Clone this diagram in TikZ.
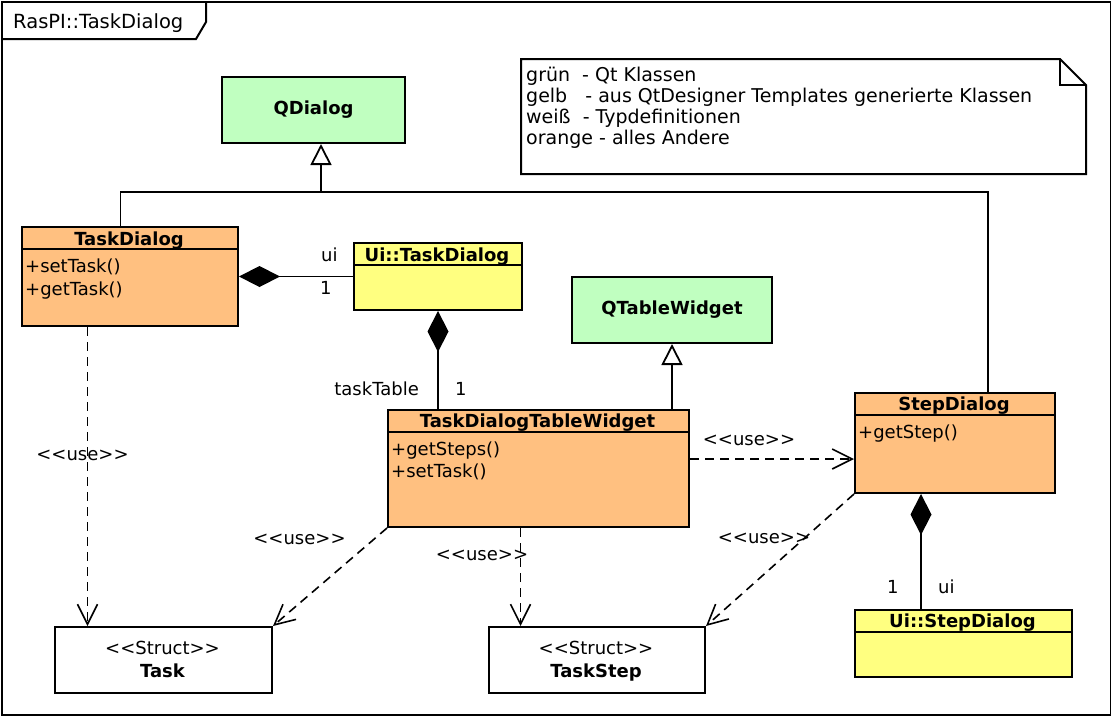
\documentclass[tikz,border=0pt]{standalone}
\usepackage{fontspec}
\setmainfont{DejaVu Sans}
\usetikzlibrary{arrows.meta}
\definecolor{qtgreen}{RGB}{192,255,192}
\definecolor{genyellow}{RGB}{255,255,128}
\definecolor{clsorange}{RGB}{255,192,128}
\begin{document}
\begin{tikzpicture}[x=1pt,y=-1pt,
  txt/.style={inner sep=0pt, font=\fontsize{18}{22}\selectfont},
  lbl/.style={txt, anchor=base west},
  clbl/.style={txt, anchor=base},
  notelbl/.style={inner sep=0pt, anchor=base west, font=\fontsize{19}{22}\selectfont},
  ttl/.style={inner sep=0pt, anchor=base, font=\fontsize{18}{22}\selectfont\bfseries},
  box/.style={draw, line width=2pt, inner sep=0pt, anchor=north west},
  conn/.style={line width=1.8pt},
  dep/.style={line width=1.6pt, dash pattern=on 9pt off 6pt, -{Straight Barb[length=20pt,width=20pt]}},
  gen/.style={line width=1.8pt, -{Triangle[open,length=21pt,width=21pt]}},
  comp/.style={line width=1.8pt, {Diamond[length=41pt,width=21pt]}-}]
\useasboundingbox (0,0) rectangle (1111,716);

% frame
\node[box, minimum width=1109pt, minimum height=713pt] (frame) at (1,1) {};
\draw[line width=2pt] (1,39) -- (196,39) -- (206,22) -- (206,1);
\node[lbl, font=\fontsize{19.5}{22}\selectfont] (frameT) at (13,28) {RasPI::TaskDialog};

% note
\draw[line width=2pt, fill=white] (521,59) -- (1060,59) -- (1086,85) -- (1086,174) -- (521,174) -- cycle;
\draw[line width=1.5pt] (1060,59) -- (1060,85) -- (1086,85);
\node[notelbl] (note1) at (526,81.5) {grün\ \ - Qt Klassen};
\node[notelbl] (note2) at (526,102.5) {gelb\ \ \ - aus QtDesigner Templates generierte Klassen};
\node[notelbl] (note3) at (526,123.5) {weiß\ \ - Typdefinitionen};
\node[notelbl] (note4) at (526,144.5) {orange - alles Andere};

% QDialog
\node[box, fill=qtgreen, minimum width=183pt, minimum height=66pt] (qd) at (221,76) {};
\node[ttl, anchor=center] (qdT) at (qd.center) {QDialog};

% TaskDialog
\node[box, fill=clsorange, minimum width=216pt, minimum height=99pt] (td) at (21,226) {};
\draw[line width=2pt] ([yshift=-23pt]td.north west) -- ([yshift=-23pt]td.north east);
\node[ttl] (tdT) at (129,245) {TaskDialog};
\node[lbl] (tdM1) at (25,272) {+setTask()};
\node[lbl] (tdM2) at (25,295) {+getTask()};

% Ui::TaskDialog
\node[box, fill=genyellow, minimum width=168pt, minimum height=67pt] (utd) at (353,242) {};
\draw[line width=2pt] ([yshift=-23pt]utd.north west) -- ([yshift=-23pt]utd.north east);
\node[ttl] (utdT) at (437,261) {Ui::TaskDialog};

% QTableWidget
\node[box, fill=qtgreen, minimum width=200pt, minimum height=66pt] (qtw) at (571,276) {};
\node[ttl, anchor=center] (qtwT) at (qtw.center) {QTableWidget};

% TaskDialogTableWidget
\node[box, fill=clsorange, minimum width=301pt, minimum height=117pt] (tdtw) at (387,409) {};
\draw[line width=2pt] ([yshift=-23pt]tdtw.north west) -- ([yshift=-23pt]tdtw.north east);
\node[ttl] (tdtwT) at (537.5,427.5) {TaskDialogTableWidget};
\node[lbl] (tdtwM1) at (391,455) {+getSteps()};
\node[lbl] (tdtwM2) at (391,477.5) {+setTask()};

% StepDialog
\node[box, fill=clsorange, minimum width=200pt, minimum height=100pt] (sd) at (854,392) {};
\draw[line width=2pt] ([yshift=-23pt]sd.north west) -- ([yshift=-23pt]sd.north east);
\node[ttl] (sdT) at (954,410.5) {StepDialog};
\node[lbl] (sdM1) at (858,438) {+getStep()};

% Ui::StepDialog
\node[box, fill=genyellow, minimum width=217pt, minimum height=67pt] (usd) at (854,609) {};
\draw[line width=2pt] ([yshift=-23pt]usd.north west) -- ([yshift=-23pt]usd.north east);
\node[ttl] (usdT) at (962.5,627.5) {Ui::StepDialog};

% Task
\node[box, fill=white, minimum width=217pt, minimum height=66pt] (task) at (54,626) {};
\node[clbl] (taskS) at (162.5,654) {<{}<Struct>{}>};
\node[ttl] (taskT) at (162.5,677) {Task};

% TaskStep
\node[box, fill=white, minimum width=216pt, minimum height=66pt] (ts) at (488,626) {};
\node[clbl] (tsS) at (596,654) {<{}<Struct>{}>};
\node[ttl] (tsT) at (596,677) {TaskStep};

% generalizations
\coordinate (gjoin) at (321,192);
\coordinate (tdUp) at ([xshift=99.5pt]td.north west);
\coordinate (sdUp) at ([xshift=134pt]sd.north west);
\draw[conn] (tdUp) |- (sdUp |- gjoin) -- (sdUp);
\draw[gen] (gjoin) -- (gjoin |- qd.south);
\draw[gen] (qtw.south |- tdtw.north) -- (qtw.south);

% compositions
\draw[comp] (td.east) -- (td.east -| utd.west);
\node[lbl] (uiA) at (321,261) {ui};
\node[lbl] (oneA) at (320,294) {1};
\draw[comp] (utd.south) -- (utd.south |- tdtw.north);
\node[txt, anchor=base east] (ttA) at (419,395) {taskTable};
\node[lbl] (oneB) at (455,395) {1};
\coordinate (sdDia) at ([xshift=67pt]sd.south west);
\draw[comp] (sdDia) -- (sdDia |- usd.north);
\node[lbl] (oneC) at (887,593) {1};
\node[lbl] (uiC) at (938,593) {ui};

% dependencies
\coordinate (tdDep) at ([xshift=66.5pt]td.south west);
\draw[dep] (tdDep) -- (tdDep |- task.north);
\node[clbl] (useA) at (82.5,460) {<{}<use>{}>};
\draw[dep] (tdtw.south west) -- (task.north east);
\node[clbl] (useB) at (299.5,544) {<{}<use>{}>};
\coordinate (tdtwDepS) at ([xshift=133.5pt]tdtw.south west);
\draw[dep] (tdtwDepS) -- (tdtwDepS |- ts.north);
\node[clbl] (useC) at (482,560) {<{}<use>{}>};
\coordinate (tdtwDepE) at ([yshift=-50pt]tdtw.north east);
\draw[dep] (tdtwDepE) -- (tdtwDepE -| sd.west);
\node[clbl] (useD) at (749,445) {<{}<use>{}>};
\draw[dep] (sd.south west) -- (ts.north east);
\node[clbl] (useE) at (764,543) {<{}<use>{}>};
\end{tikzpicture}
\end{document}
